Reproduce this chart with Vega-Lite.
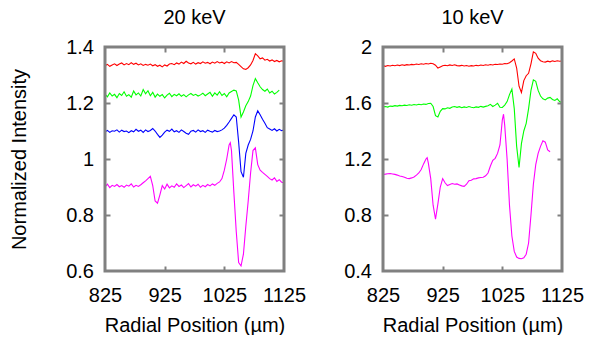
{
 "$schema": "https://vega.github.io/schema/vega-lite/v6.json",
 "padding": {"left": 8, "top": 7, "right": 5, "bottom": 0},
 "background": "white",
 "bounds": "flush",
 "spacing": 99,
 "config": {
  "view": {"stroke": null},
  "font": "Liberation Sans",
  "axis": {"grid": false, "domain": false, "tickColor": "#808080", "tickWidth": 2, "tickSize": 5, "labelColor": "#000", "titleColor": "#000", "labelFont": "Liberation Sans", "labelFontSize": 20, "titleFont": "Liberation Sans", "titleFontSize": 20, "titleFontWeight": "normal", "labelFlush": false, "labelOverlap": false},
  "title": {"font": "Liberation Sans", "fontSize": 20, "fontWeight": "normal", "color": "#000", "anchor": "middle", "frame": "group", "baseline": "alphabetic", "offset": 9.5}
 },
 "datasets": {
  "hi": [
{"x":825,"r":1.333,"g":1.232,"b":1.097,"m":0.900},
{"x":829,"r":1.338,"g":1.222,"b":1.102,"m":0.910},
{"x":833,"r":1.331,"g":1.236,"b":1.095,"m":0.898},
{"x":837,"r":1.336,"g":1.225,"b":1.101,"m":0.906},
{"x":841,"r":1.340,"g":1.231,"b":1.099,"m":0.902},
{"x":845,"r":1.334,"g":1.219,"b":1.104,"m":0.909},
{"x":849,"r":1.339,"g":1.234,"b":1.096,"m":0.901},
{"x":853,"r":1.343,"g":1.227,"b":1.103,"m":0.905},
{"x":857,"r":1.336,"g":1.240,"b":1.098,"m":0.899},
{"x":861,"r":1.341,"g":1.224,"b":1.100,"m":0.907},
{"x":865,"r":1.337,"g":1.230,"b":1.094,"m":0.903},
{"x":869,"r":1.344,"g":1.221,"b":1.101,"m":0.911},
{"x":873,"r":1.338,"g":1.243,"b":1.097,"m":0.900},
{"x":877,"r":1.342,"g":1.229,"b":1.106,"m":0.906},
{"x":881,"r":1.336,"g":1.236,"b":1.099,"m":0.902},
{"x":885,"r":1.340,"g":1.225,"b":1.103,"m":0.908},
{"x":889,"r":1.334,"g":1.248,"b":1.095,"m":0.915},
{"x":893,"r":1.338,"g":1.233,"b":1.104,"m":0.922},
{"x":897,"r":1.335,"g":1.244,"b":1.098,"m":0.930},
{"x":901,"r":1.339,"g":1.226,"b":1.102,"m":0.938},
{"x":905,"r":1.333,"g":1.238,"b":1.109,"m":0.905},
{"x":909,"r":1.337,"g":1.221,"b":1.100,"m":0.850},
{"x":913,"r":1.331,"g":1.232,"b":1.088,"m":0.842},
{"x":917,"r":1.335,"g":1.224,"b":1.077,"m":0.872},
{"x":921,"r":1.329,"g":1.230,"b":1.085,"m":0.905},
{"x":925,"r":1.336,"g":1.218,"b":1.096,"m":0.893},
{"x":929,"r":1.332,"g":1.228,"b":1.103,"m":0.910},
{"x":933,"r":1.339,"g":1.235,"b":1.099,"m":0.897},
{"x":937,"r":1.341,"g":1.223,"b":1.107,"m":0.904},
{"x":941,"r":1.337,"g":1.231,"b":1.097,"m":0.899},
{"x":945,"r":1.343,"g":1.226,"b":1.101,"m":0.911},
{"x":949,"r":1.339,"g":1.233,"b":1.095,"m":0.902},
{"x":953,"r":1.346,"g":1.224,"b":1.104,"m":0.907},
{"x":957,"r":1.341,"g":1.230,"b":1.098,"m":0.898},
{"x":961,"r":1.349,"g":1.222,"b":1.092,"m":0.905},
{"x":965,"r":1.343,"g":1.229,"b":1.088,"m":0.912},
{"x":969,"r":1.340,"g":1.234,"b":1.099,"m":0.900},
{"x":973,"r":1.345,"g":1.227,"b":1.102,"m":0.908},
{"x":977,"r":1.339,"g":1.231,"b":1.096,"m":0.903},
{"x":981,"r":1.344,"g":1.225,"b":1.104,"m":0.910},
{"x":985,"r":1.341,"g":1.229,"b":1.098,"m":0.899},
{"x":989,"r":1.347,"g":1.235,"b":1.101,"m":0.906},
{"x":993,"r":1.342,"g":1.226,"b":1.095,"m":0.901},
{"x":997,"r":1.345,"g":1.232,"b":1.103,"m":0.909},
{"x":1001,"r":1.340,"g":1.238,"b":1.099,"m":0.904},
{"x":1005,"r":1.346,"g":1.224,"b":1.096,"m":0.911},
{"x":1009,"r":1.342,"g":1.236,"b":1.102,"m":0.906},
{"x":1013,"r":1.348,"g":1.228,"b":1.098,"m":0.913},
{"x":1017,"r":1.343,"g":1.240,"b":1.100,"m":0.918},
{"x":1021,"r":1.346,"g":1.227,"b":1.104,"m":0.930},
{"x":1025,"r":1.341,"g":1.234,"b":1.110,"m":0.960},
{"x":1029,"r":1.347,"g":1.222,"b":1.120,"m":1.000},
{"x":1033,"r":1.343,"g":1.236,"b":1.132,"m":1.050},
{"x":1035,"m":1.058},
{"x":1037,"r":1.348,"g":1.241,"b":1.145,"m":1.030},
{"x":1041,"r":1.344,"g":1.246,"b":1.158,"m":0.880},
{"x":1045,"r":1.345,"g":1.243,"b":1.150,"m":0.740},
{"x":1049,"r":1.338,"g":1.210,"b":1.060,"m":0.630},
{"x":1053,"r":1.330,"g":1.150,"b":0.955,"m":0.618},
{"x":1057,"r":1.322,"g":1.168,"b":0.935,"m":0.660},
{"x":1061,"r":1.320,"g":1.190,"b":1.020,"m":0.760},
{"x":1065,"r":1.326,"g":1.205,"b":1.050,"m":0.850},
{"x":1069,"r":1.336,"g":1.225,"b":1.070,"m":0.950},
{"x":1073,"r":1.352,"g":1.262,"b":1.100,"m":1.030},
{"x":1077,"r":1.376,"g":1.287,"b":1.150,"m":1.040},
{"x":1081,"r":1.368,"g":1.272,"b":1.172,"m":0.980},
{"x":1085,"r":1.358,"g":1.258,"b":1.158,"m":0.960},
{"x":1089,"r":1.361,"g":1.248,"b":1.142,"m":0.952},
{"x":1093,"r":1.353,"g":1.242,"b":1.128,"m":0.945},
{"x":1097,"r":1.356,"g":1.250,"b":1.112,"m":0.938},
{"x":1101,"r":1.350,"g":1.236,"b":1.107,"m":0.930},
{"x":1105,"r":1.354,"g":1.242,"b":1.102,"m":0.925},
{"x":1109,"r":1.348,"g":1.232,"b":1.108,"m":0.933},
{"x":1113,"r":1.352,"g":1.238,"b":1.100,"m":0.920},
{"x":1117,"r":1.347,"g":1.246,"b":1.106,"m":0.926},
{"x":1121,"r":1.351,"b":1.101,"m":0.917},
{"x":1125,"r":1.349,"b":1.104,"m":0.915}
  ],
  "lo": [
{"x":825,"r":1.867,"g":1.572,"m":1.090},
{"x":829,"r":1.862,"g":1.575,"m":1.092},
{"x":833,"r":1.868,"g":1.571,"m":1.095},
{"x":837,"r":1.864,"g":1.578,"m":1.096},
{"x":841,"r":1.870,"g":1.576,"m":1.093},
{"x":845,"r":1.866,"g":1.581,"m":1.090},
{"x":849,"r":1.871,"g":1.578,"m":1.085},
{"x":853,"r":1.867,"g":1.583,"m":1.079},
{"x":857,"r":1.873,"g":1.580,"m":1.075},
{"x":861,"r":1.869,"g":1.585,"m":1.070},
{"x":865,"r":1.874,"g":1.582,"m":1.063},
{"x":869,"r":1.871,"g":1.587,"m":1.060},
{"x":873,"r":1.876,"g":1.584,"m":1.065},
{"x":877,"r":1.873,"g":1.589,"m":1.072},
{"x":881,"r":1.878,"g":1.586,"m":1.085},
{"x":885,"r":1.875,"g":1.591,"m":1.100},
{"x":889,"r":1.880,"g":1.588,"m":1.125},
{"x":893,"r":1.877,"g":1.593,"m":1.165},
{"x":897,"r":1.882,"g":1.590,"m":1.200},
{"x":899,"m":1.209},
{"x":901,"r":1.879,"g":1.596,"m":1.170},
{"x":905,"r":1.884,"g":1.598,"m":1.060},
{"x":909,"r":1.880,"g":1.575,"m":0.870},
{"x":913,"r":1.870,"g":1.510,"m":0.770},
{"x":917,"r":1.850,"g":1.500,"m":0.880},
{"x":921,"r":1.858,"g":1.540,"m":1.000},
{"x":925,"r":1.866,"g":1.560,"m":1.060},
{"x":929,"r":1.870,"g":1.558,"m":1.030},
{"x":933,"r":1.866,"g":1.566,"m":1.010},
{"x":937,"r":1.872,"g":1.562,"m":1.018},
{"x":941,"r":1.868,"g":1.571,"m":1.025},
{"x":945,"r":1.873,"g":1.575,"m":1.020},
{"x":949,"r":1.867,"g":1.569,"m":1.022},
{"x":953,"r":1.865,"g":1.574,"m":1.015},
{"x":957,"r":1.869,"g":1.566,"m":1.008},
{"x":961,"r":1.864,"g":1.572,"m":1.005},
{"x":965,"r":1.868,"g":1.568,"m":1.020},
{"x":969,"r":1.863,"g":1.575,"m":1.045},
{"x":973,"r":1.867,"g":1.570,"m":1.048},
{"x":977,"r":1.864,"g":1.566,"m":1.058},
{"x":981,"r":1.869,"g":1.572,"m":1.060},
{"x":985,"r":1.866,"g":1.569,"m":1.065},
{"x":989,"r":1.871,"g":1.576,"m":1.068},
{"x":993,"r":1.868,"g":1.571,"m":1.070},
{"x":997,"r":1.873,"g":1.576,"m":1.080},
{"x":1001,"r":1.870,"g":1.580,"m":1.100},
{"x":1005,"r":1.875,"g":1.590,"m":1.150},
{"x":1009,"r":1.872,"g":1.575,"m":1.190},
{"x":1013,"r":1.877,"g":1.585,"m":1.205},
{"x":1017,"r":1.875,"g":1.598,"m":1.240},
{"x":1021,"r":1.879,"g":1.570,"m":1.300},
{"x":1025,"r":1.877,"g":1.568,"m":1.480},
{"x":1027,"m":1.520},
{"x":1029,"r":1.882,"g":1.585,"m":1.440},
{"x":1033,"r":1.880,"g":1.610,"m":1.200},
{"x":1037,"r":1.888,"g":1.660,"m":0.870},
{"x":1041,"r":1.900,"g":1.700,"m":0.650},
{"x":1045,"r":1.915,"g":1.560,"m":0.540},
{"x":1049,"r":1.850,"g":1.290,"m":0.500},
{"x":1053,"r":1.720,"g":1.140,"m":0.490},
{"x":1057,"r":1.675,"g":1.310,"m":0.488},
{"x":1061,"r":1.760,"g":1.400,"m":0.495},
{"x":1065,"r":1.795,"g":1.455,"m":0.520},
{"x":1069,"r":1.812,"g":1.560,"m":0.600},
{"x":1073,"r":1.880,"g":1.690,"m":0.800},
{"x":1077,"r":1.965,"g":1.765,"m":1.020},
{"x":1081,"r":1.955,"g":1.755,"m":1.160},
{"x":1085,"r":1.920,"g":1.690,"m":1.240},
{"x":1089,"r":1.902,"g":1.650,"m":1.290},
{"x":1093,"r":1.895,"g":1.630,"m":1.330},
{"x":1097,"r":1.892,"g":1.622,"m":1.320},
{"x":1101,"r":1.899,"g":1.635,"m":1.265},
{"x":1105,"r":1.894,"g":1.640,"m":1.252},
{"x":1109,"r":1.901,"g":1.625},
{"x":1113,"r":1.897,"g":1.618},
{"x":1117,"r":1.902,"g":1.630},
{"x":1121,"r":1.898,"g":1.610},
{"x":1125,"r":1.900,"g":1.603}
  ]
 },
 "hconcat": [
  {
   "width": 179, "height": 224,
   "title": "20 keV",
   "layer": [
    {
     "data": {"name": "hi"},
     "transform": [{"fold": ["r", "g", "b", "m"], "as": ["s", "v"]}, {"filter": {"field": "v", "valid": true}}],
     "mark": {"type": "line", "strokeWidth": 1.1, "clip": true},
     "encoding": {
      "x": {"field": "x", "type": "quantitative", "scale": {"domain": [825, 1125], "nice": false, "zero": false},
            "axis": {"values": [825, 925, 1025, 1125], "format": "d", "ticks": false, "tickSize": 0, "title": "Radial Position (µm)", "labelPadding": 14.3, "titleY": 60, "titleBaseline": "alphabetic"}},
      "y": {"field": "v", "type": "quantitative", "scale": {"domain": [0.6, 1.4], "nice": false, "zero": false},
            "axis": {"values": [0.6, 0.8, 1, 1.2, 1.4], "format": "~g", "ticks": false, "tickSize": 0, "title": "Normalized Intensity", "labelPadding": 11.5, "titleX": -80, "titleBaseline": "alphabetic"}},
      "color": {"field": "s", "type": "nominal", "scale": {"domain": ["r", "g", "b", "m"], "range": ["#ff0000", "#00ff00", "#0000ff", "#ff00ff"]}, "legend": null}
     }
    },
    {
     "data": {"name": "hi"},
     "transform": [{"fold": ["r"], "as": ["s", "v"]}, {"filter": {"field": "v", "valid": true}}],
     "mark": {"type": "line", "opacity": 0},
     "encoding": {
      "x": {"field": "x", "type": "quantitative", "scale": {"domain": [825, 1125], "nice": false, "zero": false},
            "axis": {"orient": "top", "offset": -224, "values": [925, 1025], "labels": false, "title": null}},
      "y": {"field": "v", "type": "quantitative", "scale": {"domain": [0.6, 1.4], "nice": false, "zero": false},
            "axis": {"orient": "right", "offset": -179, "values": [0.8, 1, 1.2], "labels": false, "title": null}}
     }
    },
    {
     "data": {"name": "hi"},
     "transform": [{"fold": ["r"], "as": ["s", "v"]}, {"filter": {"field": "v", "valid": true}}],
     "mark": {"type": "line", "opacity": 0},
     "encoding": {
      "x": {"field": "x", "type": "quantitative", "scale": {"domain": [825, 1125], "nice": false, "zero": false},
            "axis": {"orient": "bottom", "offset": -224, "values": [925, 1025], "labels": false, "title": null}},
      "y": {"field": "v", "type": "quantitative", "scale": {"domain": [0.6, 1.4], "nice": false, "zero": false},
            "axis": {"orient": "left", "offset": -179, "values": [0.8, 1, 1.2], "labels": false, "title": null}}
     }
    },
    {
     "data": {"values": [{"f": 0}]},
     "mark": {"type": "rect", "fill": "transparent", "stroke": "#808080", "strokeWidth": 3},
     "encoding": {
      "x": {"datum": 825, "type": "quantitative", "axis": null},
      "x2": {"datum": 1125},
      "y": {"datum": 0.6, "type": "quantitative", "axis": null},
      "y2": {"datum": 1.4}
     }
    }
   ],
   "resolve": {"axis": {"x": "independent", "y": "independent"}}
  },
  {
   "width": 179, "height": 224,
   "title": "10 keV",
   "layer": [
    {
     "data": {"name": "lo"},
     "transform": [{"fold": ["r", "g", "m"], "as": ["s", "v"]}, {"filter": {"field": "v", "valid": true}}],
     "mark": {"type": "line", "strokeWidth": 1.1, "clip": true},
     "encoding": {
      "x": {"field": "x", "type": "quantitative", "scale": {"domain": [825, 1125], "nice": false, "zero": false},
            "axis": {"values": [825, 925, 1025, 1125], "format": "d", "ticks": false, "tickSize": 0, "title": "Radial Position (µm)", "labelPadding": 14.3, "titleY": 60, "titleBaseline": "alphabetic"}},
      "y": {"field": "v", "type": "quantitative", "scale": {"domain": [0.4, 2], "nice": false, "zero": false},
            "axis": {"values": [0.4, 0.8, 1.2, 1.6, 2], "format": "~g", "ticks": false, "tickSize": 0, "title": null, "labelPadding": 11.5}},
      "color": {"field": "s", "type": "nominal", "scale": {"domain": ["r", "g", "m"], "range": ["#ff0000", "#00ff00", "#ff00ff"]}, "legend": null}
     }
    },
    {
     "data": {"name": "lo"},
     "transform": [{"fold": ["r"], "as": ["s", "v"]}, {"filter": {"field": "v", "valid": true}}],
     "mark": {"type": "line", "opacity": 0},
     "encoding": {
      "x": {"field": "x", "type": "quantitative", "scale": {"domain": [825, 1125], "nice": false, "zero": false},
            "axis": {"orient": "top", "offset": -224, "values": [925, 1025], "labels": false, "title": null}},
      "y": {"field": "v", "type": "quantitative", "scale": {"domain": [0.4, 2], "nice": false, "zero": false},
            "axis": {"orient": "right", "offset": -179, "values": [0.8, 1.2, 1.6], "labels": false, "title": null}}
     }
    },
    {
     "data": {"name": "lo"},
     "transform": [{"fold": ["r"], "as": ["s", "v"]}, {"filter": {"field": "v", "valid": true}}],
     "mark": {"type": "line", "opacity": 0},
     "encoding": {
      "x": {"field": "x", "type": "quantitative", "scale": {"domain": [825, 1125], "nice": false, "zero": false},
            "axis": {"orient": "bottom", "offset": -224, "values": [925, 1025], "labels": false, "title": null}},
      "y": {"field": "v", "type": "quantitative", "scale": {"domain": [0.4, 2], "nice": false, "zero": false},
            "axis": {"orient": "left", "offset": -179, "values": [0.8, 1.2, 1.6], "labels": false, "title": null}}
     }
    },
    {
     "data": {"values": [{"f": 0}]},
     "mark": {"type": "rect", "fill": "transparent", "stroke": "#808080", "strokeWidth": 3},
     "encoding": {
      "x": {"datum": 825, "type": "quantitative", "axis": null},
      "x2": {"datum": 1125},
      "y": {"datum": 0.4, "type": "quantitative", "axis": null},
      "y2": {"datum": 2}
     }
    }
   ],
   "resolve": {"axis": {"x": "independent", "y": "independent"}}
  }
 ]
}
